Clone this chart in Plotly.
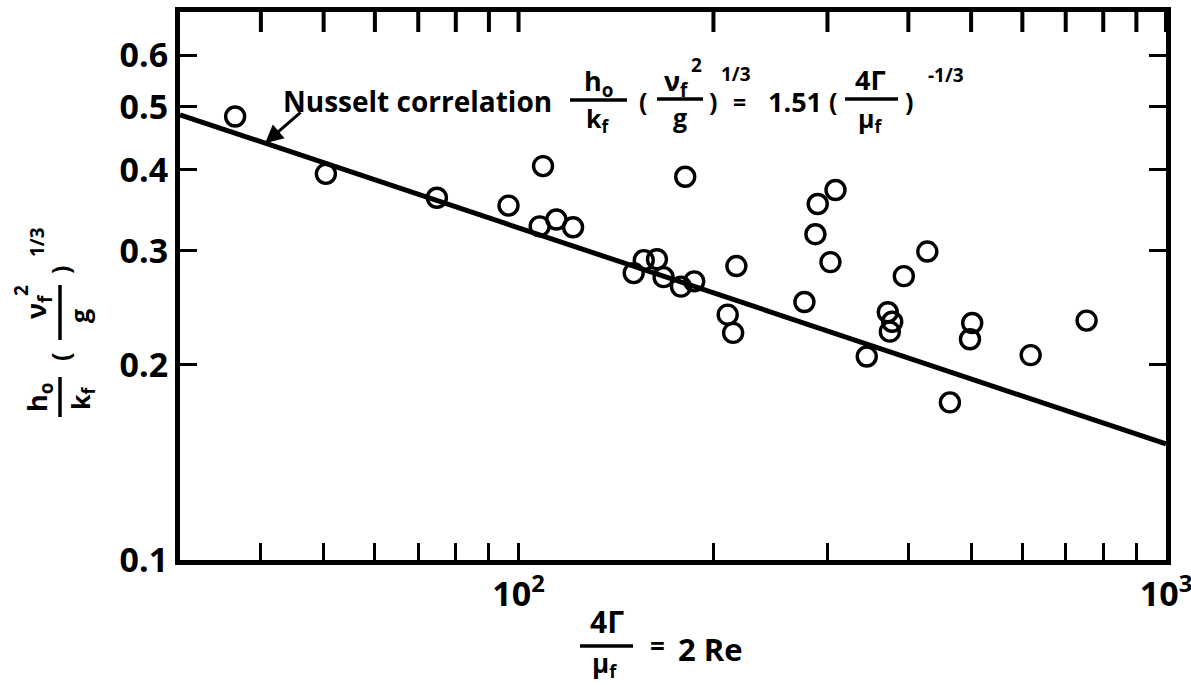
import math
import plotly.graph_objects as go

# ---------------- data ----------------
re_x = [36.5, 50.4, 74.8, 96.5, 107.8, 109.1, 114.4, 121.4, 150.6, 156.1,
        163.6, 167.5, 178.2, 180.9, 186.8, 210.4, 214.5, 217.0, 276.4, 287.4,
        289.8, 303.2, 308.7, 345.0, 371.8, 377.7, 374.5, 393.6, 427.9, 463.7,
        502.0, 498.0, 618.0, 754.0]
nu_y = [0.483, 0.394, 0.362, 0.352, 0.327, 0.405, 0.335, 0.326, 0.277, 0.290,
        0.291, 0.273, 0.264, 0.390, 0.269, 0.239, 0.224, 0.284, 0.250, 0.318,
        0.354, 0.288, 0.372, 0.206, 0.241, 0.233, 0.225, 0.274, 0.299, 0.175,
        0.232, 0.219, 0.207, 0.234]

corr_coef = 1.51
corr_exp = -1.0 / 3.0
corr_x = [30, 1000]
corr_y = [corr_coef * v ** corr_exp for v in corr_x]
arrow_x = 40.6

x_tickvals = [40, 50, 60, 70, 80, 90, 100, 200, 300, 400, 500, 600, 700, 800, 900, 1000]
x_ticktext = [" ", " ", " ", " ", " ", " ", "10<sup>2</sup>", " ", " ", " ", " ", " ", " ", " ", " ", "10<sup>3</sup>"]
y_tickvals = [0.1, 0.2, 0.3, 0.4, 0.5, 0.6]
y_ticktext = ["0.1", "0.2", "0.3", "0.4", "0.5", "0.6"]

# ---------------- layout geometry ----------------
W, H = 1191, 685
L, R, T, B = 180, 1166, 12, 560
FONT = "Open Sans"
X_RANGE = [math.log10(30), 3]
Y_RANGE = [-1, math.log10(0.7)]
TICKLEN = 17


def px(x, y):
    return (x - L) / (R - L), (B - y) / (B - T)


fig = go.Figure()
fig.add_trace(go.Scatter(x=corr_x, y=corr_y, mode="lines",
                         line=dict(color="black", width=5), hoverinfo="skip"))
fig.add_trace(go.Scatter(x=re_x, y=nu_y, mode="markers",
                         marker=dict(symbol="circle-open", size=19, color="black",
                                     line=dict(width=3.4, color="black"))))

annotations = []
shapes = []


def txt(x, y, s, size=26, angle=0):
    xp, yp = px(x, y)
    annotations.append(dict(x=xp, y=yp, xref="paper", yref="paper", text=s,
                            showarrow=False, xanchor="center", yanchor="middle",
                            textangle=angle,
                            font=dict(family=FONT, size=size, color="black", weight="bold")))


def bar(x0, y0, x1, y1, w=3.5):
    a, b = px(x0, y0)
    c, d = px(x1, y1)
    shapes.append(dict(type="line", xref="paper", yref="paper", x0=a, y0=b, x1=c, y1=d,
                       line=dict(color="black", width=w)))


# top-edge tick marks (mirror of the x ticks), placed through the axis range
for v in x_tickvals:
    xp = (math.log10(v) - X_RANGE[0]) / (X_RANGE[1] - X_RANGE[0])
    shapes.append(dict(type="line", xref="paper", yref="paper", x0=xp, x1=xp,
                       y0=1.005, y1=1 - (TICKLEN + 3) / (B - T), layer="above",
                       line=dict(color="black", width=4)))

# Correlation label
txt(417, 101, "Nusselt correlation", 28)
txt(598, 82, "h<sub>o</sub>", 27)
bar(570, 100, 627, 100)
txt(598, 119, "k<sub>f</sub>", 25)
txt(643, 101, "(", 25)
txt(676, 83, "ν<sub>f</sub>", 27)
txt(696, 65, "2", 19)
bar(657, 99, 703, 99)
txt(680, 117, "g", 25)
txt(713, 101, ")", 25)
txt(736, 74, "1/3", 19)
txt(739, 102, "=", 23)
txt(795, 102, "1.51", 27)
txt(833, 101, "(", 25)
txt(870, 80, "4Γ", 27)
bar(845, 99, 898, 99)
txt(870, 119, "μ<sub>f</sub>", 25)
txt(909, 101, ")", 25)
txt(946, 75, "-1/3", 19)

# x-axis title
txt(607, 621, "4Γ", 30)
bar(580, 646, 633, 646)
txt(604, 664, "μ<sub>f</sub>", 26)
txt(657, 646, "=", 26)
txt(710, 649, "2 Re", 31)

# y-axis title (rotated)
txt(38, 398, "h<sub>o</sub>", 27, -90)
bar(60, 377, 60, 417)
txt(81, 398, "k<sub>f</sub>", 25, -90)
txt(60, 357, "(", 25, -90)
txt(38, 307, "ν<sub>f</sub>", 27, -90)
txt(21, 291, "2", 19, -90)
bar(60, 285, 60, 340)
txt(79, 316, "g", 25, -90)
txt(60, 270, ")", 25, -90)
txt(37, 242, "1/3", 19, -90)

# Arrow pointing to correlation line
annotations.append(dict(x=math.log10(arrow_x), y=math.log10(corr_coef * arrow_x ** corr_exp),
                        xref="x", yref="y", ax=37, ay=-32, showarrow=True,
                        arrowhead=2, arrowsize=1.2, arrowwidth=3, arrowcolor="black",
                        standoff=0, text=""))

axis_common = dict(type="log", showline=True, linewidth=5, linecolor="black", mirror="allticks",
                   ticks="inside", ticklen=TICKLEN, tickwidth=3, tickcolor="black",
                   showgrid=False, zeroline=False, tickmode="array",
                   ticklabeloverflow="allow")

fig.update_layout(
    width=W, height=H,
    margin=dict(l=L, r=W - R, t=T, b=H - B, autoexpand=False),
    paper_bgcolor="white", plot_bgcolor="white",
    showlegend=False,
    xaxis=dict(range=X_RANGE, tickvals=x_tickvals, ticktext=x_ticktext, tickangle=0,
               tickfont=dict(family=FONT, size=34, color="black", weight="bold"),
               **axis_common),
    yaxis=dict(range=Y_RANGE, tickvals=y_tickvals, ticktext=y_ticktext,
               tickfont=dict(family=FONT, size=34, color="black", weight="bold"),
               **axis_common),
    annotations=annotations, shapes=shapes,
)

fig.write_html("out.html", config={"displayModeBar": False},
               post_script="document.body.style.margin='0px';document.body.style.overflow='hidden';")
